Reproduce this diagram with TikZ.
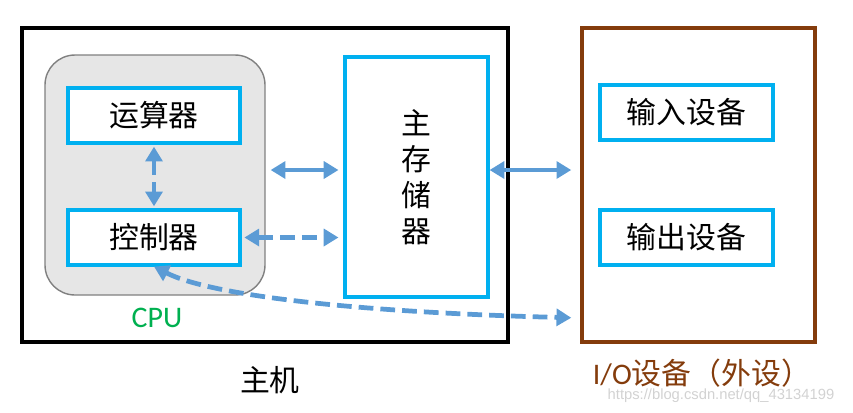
\documentclass[tikz,border=0pt]{standalone}
\usepackage{fontspec}
\newfontfamily\cjk{Noto Sans CJK SC}
\newfontfamily\lat{Carlito}
\newfontfamily\wmfont{Liberation Sans}
\usepackage{tikz}
\usetikzlibrary{arrows.meta}
\usetikzlibrary{positioning}

\definecolor{unitblue}{HTML}{00B0F0}
\definecolor{busblue}{HTML}{5B9BD5}
\definecolor{cpugreen}{HTML}{00B050}
\definecolor{iobrown}{HTML}{843C0C}
\definecolor{cpugray}{HTML}{E6E6E6}

\tikzset{
  unit/.style={draw=unitblue, line width=0.9pt, fill=white, inner sep=0pt,
    minimum width=1.72cm, minimum height=0.55cm,
    font=\cjk\fontsize{8.5}{10.2}\selectfont},
  bus/.style={draw=busblue, line width=1.35pt,
    {Triangle[length=4.2pt,width=4.8pt]}-{Triangle[length=4.2pt,width=4.8pt]}},
  ctlbus/.style={bus, dash pattern=on 4.2pt off 2pt},
  label/.style={font=\cjk\fontsize{8.5}{10.2}\selectfont, inner sep=0pt}
}

\begin{document}
\begin{tikzpicture}[x=1cm,y=-1cm]
		\useasboundingbox (0,0) rectangle (8.53,4.12);
		% host and io frames
		\node[draw=black, line width=1pt, minimum width=4.86cm, minimum height=3.14cm] (host) at (2.65,1.85) {};
		\node[draw=iobrown, line width=0.9pt, minimum width=2.33cm, minimum height=3.14cm] (io) at (6.985,1.85) {};
		\node[draw=gray, fill=cpugray, line width=0.4pt, rounded corners=0.3cm, minimum width=2.2cm, minimum height=2.4cm] (cpu) at (1.55,1.75) {};
		% units
		\node[unit] (alu) at (1.54,1.155) {运算器};
		\node[unit] (ctrl) at (1.54,2.375) {控制器};
		\node[unit, minimum width=1.43cm, minimum height=2.40cm, align=center] (mem) at (4.165,1.77) {主\\存\\储\\器};
		\node[unit, minimum width=1.73cm] (input) at (6.865,1.125) {输入设备};
		\node[unit, minimum width=1.73cm] (output) at (6.865,2.375) {输出设备};
		% labels
		\node[label, font=\lat\fontsize{8.5}{10.2}\selectfont, text=cpugreen] (cpulabel) at (1.57,3.18) {CPU};
		\node[label] (hostlabel) at (2.70,3.80) {主机};
		\node[label, text=iobrown] (iolabel) at (7.02,3.73) {{\lat I/O}设备（外设）};
		\node[inner sep=0pt, font=\wmfont\fontsize{4.2}{5}\selectfont, text=gray!35] (mark) at (7.21,3.96) {https://blog.csdn.net/qq\_43134199};
		% buses
		\coordinate (busline) at (0,1.70);
		\coordinate (dmaline) at (0,3.18);
		\draw[bus, shorten <=1.4pt, shorten >=1.4pt] (cpu.east |- busline) -- (mem.west |- busline);
		\draw[bus, shorten >=2.6pt] (mem.east |- busline) -- (io.west |- busline);
		\draw[ctlbus, shorten <=0.8pt, shorten >=1.4pt] (ctrl.east) -- (mem.west |- ctrl.east);
		\draw[ctlbus, shorten <=0.6pt, shorten >=0.6pt] (alu.south) -- (ctrl.north);
		\draw[ctlbus, shorten >=2.6pt] (ctrl.south) .. controls (2.1,2.95) and (3.5,3.12) .. (io.west |- dmaline);
	\end{tikzpicture}
\end{document}
